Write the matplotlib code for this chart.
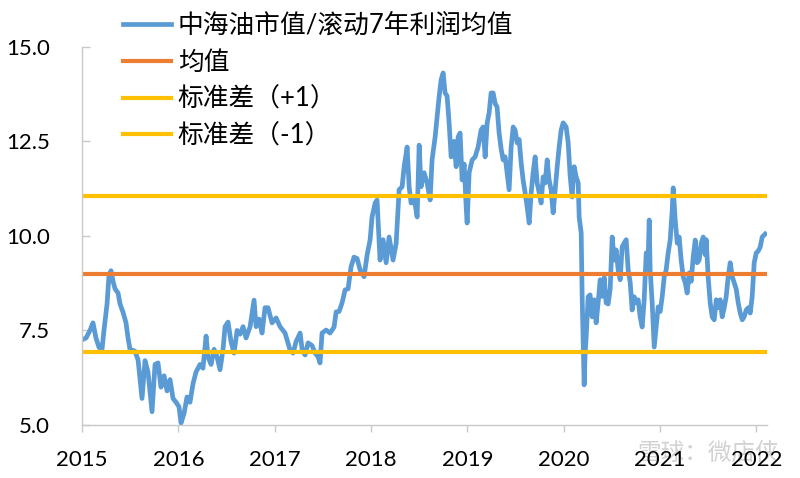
import matplotlib
matplotlib.use('Agg')
import matplotlib.pyplot as plt
from matplotlib.ticker import FormatStrFormatter

plt.rcParams['font.family'] = ['Lato', 'Noto Sans CJK SC', 'DejaVu Sans']

# time axis in decimal years
t = [
    2015.000, 2015.042, 2015.083, 2015.114, 2015.145, 2015.177, 2015.208, 2015.228,
    2015.260, 2015.280, 2015.301, 2015.322, 2015.343, 2015.374, 2015.395, 2015.426,
    2015.457, 2015.478, 2015.498, 2015.550, 2015.582, 2015.623, 2015.654, 2015.685,
    2015.727, 2015.758, 2015.789, 2015.820, 2015.852, 2015.883, 2015.914, 2015.945,
    2015.976, 2016.007, 2016.028, 2016.059, 2016.090, 2016.121, 2016.153, 2016.184,
    2016.225, 2016.256, 2016.288, 2016.308, 2016.340, 2016.371, 2016.402, 2016.433,
    2016.464, 2016.485, 2016.516, 2016.547, 2016.578, 2016.610, 2016.641, 2016.672,
    2016.703, 2016.745, 2016.786, 2016.807, 2016.838, 2016.869, 2016.900, 2016.931,
    2016.973, 2017.015, 2017.056, 2017.108, 2017.160, 2017.191, 2017.222, 2017.264,
    2017.285, 2017.316, 2017.347, 2017.388, 2017.420, 2017.451, 2017.471, 2017.492,
    2017.534, 2017.575, 2017.617, 2017.638, 2017.669, 2017.700, 2017.731, 2017.762,
    2017.793, 2017.824, 2017.856, 2017.887, 2017.928, 2017.960, 2017.991, 2018.011,
    2018.043, 2018.063, 2018.094, 2018.126, 2018.157, 2018.188, 2018.229, 2018.261,
    2018.292, 2018.323, 2018.344, 2018.375, 2018.396, 2018.416, 2018.448, 2018.479,
    2018.500, 2018.520, 2018.551, 2018.583, 2018.614, 2018.634, 2018.666, 2018.686,
    2018.707, 2018.728, 2018.749, 2018.769, 2018.790, 2018.811, 2018.832, 2018.863,
    2018.884, 2018.905, 2018.925, 2018.946, 2018.967, 2018.988, 2018.998, 2019.019,
    2019.050, 2019.081, 2019.112, 2019.143, 2019.164, 2019.185, 2019.206, 2019.226,
    2019.247, 2019.268, 2019.289, 2019.309, 2019.330, 2019.351, 2019.372, 2019.393,
    2019.413, 2019.434, 2019.455, 2019.476, 2019.496, 2019.517, 2019.538, 2019.559,
    2019.579, 2019.600, 2019.621, 2019.642, 2019.663, 2019.683, 2019.704, 2019.725,
    2019.746, 2019.766, 2019.787, 2019.808, 2019.829, 2019.849, 2019.870, 2019.891,
    2019.912, 2019.933, 2019.953, 2019.974, 2019.995, 2020.026, 2020.047, 2020.067,
    2020.088, 2020.109, 2020.130, 2020.151, 2020.161, 2020.182, 2020.192, 2020.203,
    2020.213, 2020.223, 2020.234, 2020.254, 2020.275, 2020.296, 2020.317, 2020.337,
    2020.358, 2020.379, 2020.400, 2020.421, 2020.441, 2020.462, 2020.483, 2020.504,
    2020.524, 2020.545, 2020.566, 2020.587, 2020.607, 2020.628, 2020.649, 2020.670,
    2020.691, 2020.711, 2020.732, 2020.753, 2020.774, 2020.794, 2020.815, 2020.836,
    2020.857, 2020.877, 2020.888, 2020.898, 2020.919, 2020.940, 2020.961, 2020.981,
    2021.002, 2021.023, 2021.044, 2021.064, 2021.085, 2021.106, 2021.127, 2021.137,
    2021.158, 2021.179, 2021.199, 2021.220, 2021.241, 2021.262, 2021.282, 2021.303,
    2021.324, 2021.345, 2021.366, 2021.386, 2021.407, 2021.428, 2021.449, 2021.469,
    2021.480, 2021.500, 2021.521, 2021.542, 2021.563, 2021.584, 2021.604, 2021.625,
    2021.646, 2021.667, 2021.687, 2021.708, 2021.729, 2021.750, 2021.770, 2021.791,
    2021.812, 2021.833, 2021.854, 2021.874, 2021.895, 2021.916, 2021.937, 2021.957,
    2021.978, 2021.999, 2022.020, 2022.040, 2022.061, 2022.092,
]
ratio = [
    7.25, 7.30, 7.50, 7.70, 7.30, 7.05, 7.00, 7.50,
    8.20, 8.95, 9.08, 8.80, 8.60, 8.49, 8.20, 7.98,
    7.70, 7.30, 7.00, 6.95, 6.72, 5.70, 6.70, 6.40,
    5.35, 6.60, 6.64, 6.00, 6.30, 5.90, 6.20, 5.70,
    5.60, 5.48, 5.05, 5.30, 5.74, 5.60, 6.10, 6.40,
    6.60, 6.50, 7.35, 6.80, 6.60, 7.00, 6.80, 6.46,
    7.00, 7.60, 7.72, 7.20, 6.90, 7.50, 7.40, 7.60,
    7.30, 7.60, 8.30, 7.60, 7.80, 7.43, 8.10, 8.10,
    7.70, 7.83, 7.60, 7.43, 6.98, 6.90, 7.20, 7.43,
    7.00, 6.85, 7.17, 7.10, 6.90, 6.80, 6.64, 7.43,
    7.51, 7.43, 7.59, 7.99, 8.00, 8.23, 8.57, 8.60,
    9.18, 9.44, 9.40, 9.10, 8.92, 9.50, 9.90, 10.50,
    10.87, 10.95, 9.36, 9.90, 9.29, 9.97, 9.36, 9.80,
    11.22, 11.30, 11.83, 12.35, 11.30, 10.87, 11.00, 10.50,
    12.40, 11.30, 11.67, 11.40, 10.95, 12.01, 12.62, 13.15,
    13.68, 14.13, 14.31, 13.78, 13.70, 12.99, 12.09, 12.50,
    11.83, 12.62, 12.72, 11.48, 11.90, 10.77, 10.34, 11.67,
    12.01, 12.09, 12.35, 12.80, 12.88, 12.09, 12.99, 13.25,
    13.78, 13.78, 13.50, 13.41, 12.72, 12.30, 12.01, 12.09,
    11.67, 11.22, 12.35, 12.88, 12.80, 12.46, 12.55, 11.93,
    11.48, 11.14, 10.77, 10.34, 11.14, 11.67, 12.09, 11.40,
    11.14, 10.87, 11.56, 11.40, 12.01, 11.48, 11.22, 10.61,
    11.22, 11.83, 12.35, 12.80, 12.99, 12.88, 12.46, 11.60,
    11.03, 11.83, 11.56, 11.40, 10.50, 10.08, 8.40, 7.17,
    6.06, 6.90, 7.33, 8.39, 8.44, 7.86, 8.31, 7.70,
    8.23, 8.84, 8.40, 8.90, 8.23, 8.20, 8.60, 9.97,
    9.36, 9.63, 9.10, 8.84, 9.71, 9.81, 9.90, 9.10,
    8.76, 8.04, 8.39, 8.23, 8.31, 7.86, 7.59, 8.31,
    9.55, 9.40, 10.42, 9.10, 8.23, 7.06, 7.59, 8.12,
    8.00, 8.39, 8.92, 9.10, 9.55, 9.89, 10.69, 11.27,
    10.42, 9.81, 9.97, 9.36, 8.92, 8.76, 8.49, 9.02,
    8.80, 9.44, 9.89, 9.29, 9.36, 9.81, 9.97, 9.50,
    9.90, 8.92, 8.23, 7.86, 7.78, 8.31, 8.10, 8.31,
    7.86, 8.10, 8.39, 8.92, 9.29, 8.92, 8.76, 8.60,
    8.23, 7.96, 7.78, 7.86, 8.04, 8.10, 7.96, 8.39,
    9.29, 9.55, 9.60, 9.70, 9.97, 10.05,
]

mean_val = 8.98
std_up = 11.05
std_dn = 6.92

labels = ['中海油市值/滚动7年利润均值', '均值', '标准差（+1）', '标准差（-1）']
year_ticks = [2015, 2016, 2017, 2018, 2019, 2020, 2021, 2022]
y_ticks = [5.0, 7.5, 10.0, 12.5, 15.0]

BLUE = '#5B9BD5'
ORANGE = '#ED7D31'
GOLD = '#FFC000'
GRID = '#C9C9C9'

fig = plt.figure(figsize=(8, 4.78), dpi=100)
ax = fig.add_axes([0.1025, 0.111, 0.8565, 0.791])

l1, = ax.plot(t, ratio, color=BLUE, lw=3.4, solid_joinstyle='round')
l2 = ax.axhline(mean_val, color=ORANGE, lw=3.0)
l3 = ax.axhline(std_up, color=GOLD, lw=3.0)
l4 = ax.axhline(std_dn, color=GOLD, lw=3.0)

ax.set_xlim(2015, 2022.113)
ax.set_ylim(5, 15)
ax.set_xticks(year_ticks)
ax.set_yticks(y_ticks)
ax.yaxis.set_major_formatter(FormatStrFormatter('%.1f'))

for s in ['top', 'right']:
    ax.spines[s].set_visible(False)
for s in ['left', 'bottom']:
    ax.spines[s].set_color(GRID)
    ax.spines[s].set_linewidth(1.0)

ax.tick_params(axis='y', direction='in', length=6, width=1.0, color=GRID,
               pad=23, labelsize=16)
ax.tick_params(axis='x', direction='out', length=5, width=1.0, color=GRID,
               pad=13, labelsize=16)

leg = fig.legend([l1, l2, l3, l4], labels, loc='upper left',
                 bbox_to_anchor=(123/800, 1 - 13/478), bbox_transform=fig.transFigure,
                 frameon=False, fontsize=18.5, handlelength=1.85, handletextpad=0.28,
                 labelspacing=0.46, borderpad=0, borderaxespad=0)

fig.text(637/800, 1 - 452/478, '雪球：微店侠', color='#D2D2D2', fontsize=17,
         ha='left', va='center', zorder=-1)

fig.savefig('out.png', dpi=100)
